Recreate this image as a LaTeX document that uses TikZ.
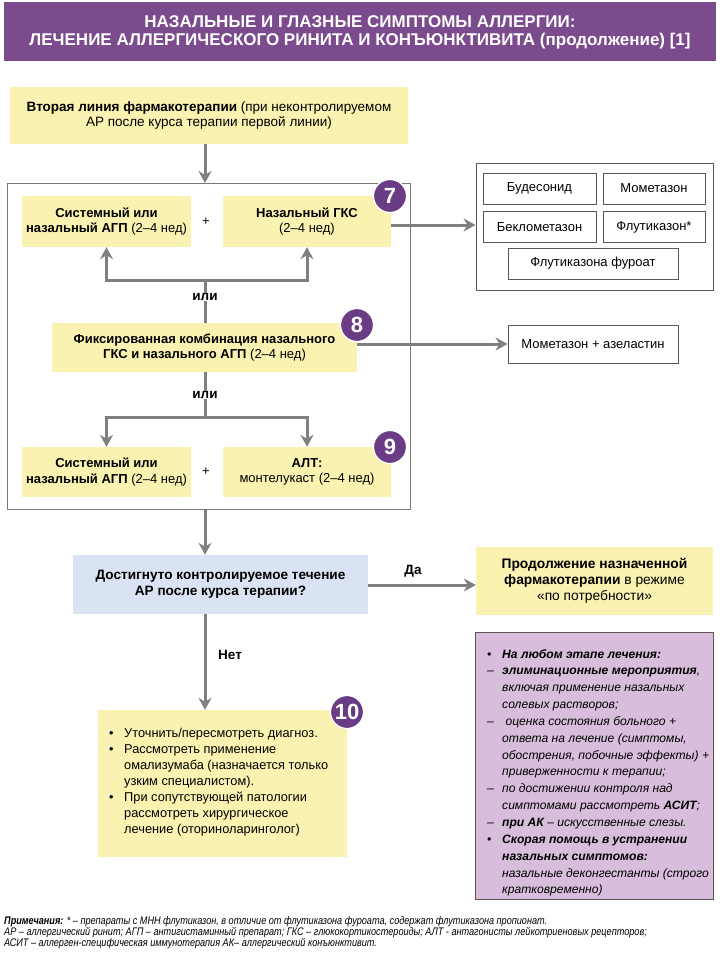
\documentclass[tikz,border=0pt]{standalone}
\usepackage{fontspec}
\setmainfont{Liberation Sans}
\newfontfamily\notefont[FakeStretch=0.83]{Liberation Sans}
\usetikzlibrary{arrows.meta,calc}
\definecolor{ttl}{HTML}{7B4B8E}
\definecolor{badge}{HTML}{6A3C86}
\definecolor{yel}{HTML}{F9F2B1}
\definecolor{blu}{HTML}{DAE3F3}
\definecolor{lil}{HTML}{D8BEDC}
\definecolor{arr}{HTML}{808080}
\definecolor{bord}{HTML}{5E5650}
\tikzset{
  every node/.style={font=\fontsize{13}{15.5}\selectfont, inner sep=0pt},
  ybox/.style={fill=yel, align=center},
  bbox/.style={fill=blu, align=center},
  wbox/.style={draw=bord, line width=0.9pt, fill=white, align=center},
  lbox/.style={draw=bord, line width=0.9pt, fill=lil},
  conn/.style={draw=arr, line width=3pt},
  arrow/.style={draw=arr, line width=3pt, -{Stealth[length=12pt,width=13pt,inset=4pt]}},
  badgec/.style={circle, fill=badge, draw=white, line width=1.2pt, minimum size=33pt,
     text=white, font=\fontsize{22}{22}\selectfont\bfseries},
  lbl/.style={font=\fontsize{13.5}{15.5}\selectfont\bfseries}
}
\begin{document}
\begin{tikzpicture}[x=1pt,y=-1pt]
\useasboundingbox (0,0) rectangle (720,964);
% title
\node[fill=ttl, minimum width=712, minimum height=59, anchor=north west] (title) at (4,2) {};
\node[text=white, align=center, font=\bfseries\fontsize{17}{18}\selectfont] (titletxt) at (360,32)
  {НАЗАЛЬНЫЕ И ГЛАЗНЫЕ СИМПТОМЫ АЛЛЕРГИИ:\\ЛЕЧЕНИЕ АЛЛЕРГИЧЕСКОГО РИНИТА И КОНЪЮНКТИВИТА (продолжение) [1]};
\coordinate (col) at (205,0);
% top box
\node[ybox, minimum width=398, minimum height=57, font=\fontsize{13.5}{15.5}\selectfont] (top) at (209,115.5)
  {\textbf{Вторая линия фармакотерапии} (при неконтролируемом\\АР после курса терапии первой линии)};
% container
\node[draw=bord!80, line width=1pt, minimum width=403, minimum height=326, anchor=north west] (cont) at (7,183) {};
\draw[arrow] (top.south -| col) -- (cont.north -| col);
% first pair
\node[ybox, minimum width=169, minimum height=51] (n1) at (106.5,221.5)
  {\textbf{Системный или}\\\textbf{назальный АГП} (2–4 нед)};
\node (plus1) at (206,222) {+};
\node[ybox, minimum width=168, minimum height=51] (n2) at (307,221.5)
  {\textbf{Назальный ГКС}\\(2–4 нед)};
\node[badgec] (b7) at (390,196) {7};
\node[lbl] (ili1) at (205,297) {или};
\coordinate (f1) at (205,280);
\draw[conn] (ili1.north) -- (f1);
\draw[arrow] (f1) -| (n1.south);
\draw[arrow] (f1) -| (n2.south);
% combo
\node[ybox, minimum width=305, minimum height=49] (combo) at (204.5,347.5)
  {\textbf{Фиксированная комбинация назального}\\\textbf{ГКС и назального АГП} (2–4 нед)};
\node[badgec] (b8) at (357,325) {8};
\draw[conn] (ili1.south) -- (combo.north -| ili1);
\node[lbl] (ili2) at (205,395) {или};
\draw[conn] (combo.south -| ili2) -- (ili2.north);
\coordinate (f2) at (205,417);
\draw[conn] (ili2.south) -- (f2);
% second pair
\node[ybox, minimum width=169, minimum height=50] (n3) at (106.5,472)
  {\textbf{Системный или}\\\textbf{назальный АГП} (2–4 нед)};
\node (plus2) at (206,472) {+};
\node[ybox, minimum width=168, minimum height=50] (n4) at (307,472)
  {\textbf{АЛТ:}\\монтелукаст (2–4 нед)};
\node[badgec] (b9) at (390,447) {9};
\draw[arrow] (f2) -| (n3.north);
\draw[arrow] (f2) -| (n4.north);
% drug group
\node[wbox, minimum width=237, minimum height=127] (drugs) at (594.5,226.5) {};
\node[wbox, minimum width=113, minimum height=31] (d1) at (539.5,188.5) {Будесонид};
\node[wbox, minimum width=102, minimum height=31] (d2) at (654,188.5) {Мометазон};
\node[wbox, minimum width=113, minimum height=31] (d3) at (539.5,227) {Беклометазон};
\node[wbox, minimum width=102, minimum height=31] (d4) at (654,227) {Флутиказон*};
\node[wbox, minimum width=170, minimum height=31] (d5) at (593,263.5) {Флутиказона фуроат};
\draw[arrow] (n2.east |- 0,225) -- (drugs.west |- 0,225);
% mometazon + azelastin
\node[wbox, minimum width=170, minimum height=38] (ma) at (593,344) {Мометазон + азеластин};
\draw[arrow] (combo.east |- ma) -- (ma.west);
% decision
\node[bbox, minimum width=295, minimum height=59, font=\fontsize{13.6}{16}\selectfont] (dec) at (220.5,584.5)
  {\textbf{Достигнуто контролируемое течение}\\\textbf{АР после курса терапии?}};
\draw[arrow] (cont.south -| col) -- (dec.north -| col);
\node[ybox, minimum width=237, minimum height=68, font=\fontsize{13.8}{15.8}\selectfont] (cont2) at (594.5,581)
  {\textbf{Продолжение назначенной}\\\textbf{фармакотерапии} в режиме\\«по потребности»};
\draw[arrow] (dec.east |- 0,585) -- (cont2.west |- 0,585);
\node[lbl] (yes) at (413,571) {Да};
% no branch
\node[ybox, minimum width=249, minimum height=147] (b10box) at (222.5,783.5) {};
\draw[arrow] (dec.south -| col) -- (b10box.north -| col);
\node[lbl, anchor=west] (no) at (218,655) {Нет};
\node[anchor=north west, font=\fontsize{12.8}{16}\selectfont] (b10txt) at (109,726)
 {\begin{tabular}{@{}p{15pt}@{}l@{}}
 • & Уточнить/пересмотреть диагноз.\\
 • & Рассмотреть применение\\
   & омализумаба (назначается только\\
   & узким специалистом).\\
 • & При сопутствующей патологии\\
   & рассмотреть хирургическое\\
   & лечение (оториноларинголог)
 \end{tabular}};
\node[badgec] (b10) at (347,712) {10};
% lilac box
\node[lbox, minimum width=238, minimum height=267] (adv) at (594,765.5) {};
\node[anchor=north west, font=\fontsize{12.1}{16.85}\selectfont\itshape] (advtxt) at (487,646)
 {\begin{tabular}{@{}p{15pt}@{}l@{}}
 • & \textbf{На любом этапе лечения:}\\
 – & \textbf{элиминационные мероприятия},\\
   & включая применение назальных\\
   & солевых растворов;\\
 – & \ оценка состояния больного +\\
   & ответа на лечение (симптомы,\\
   & обострения, побочные эффекты) +\\
   & приверженности к терапии;\\
 – & по достижении контроля над\\
   & симптомами рассмотреть \textbf{АСИТ};\\
 – & \textbf{при АК} – искусственные слезы.\\
 • & \textbf{Скорая помощь в устранении}\\
   & \textbf{назальных симптомов:}\\
   & назальные деконгестанты (строго\\
   & кратковременно)
 \end{tabular}};
% notes
\node[anchor=base west, align=left, font=\notefont\itshape\fontsize{11}{10.8}\selectfont] (notes) at (4,946)
 {\textbf{Примечания:} * – препараты с МНН флутиказон, в отличие от флутиказона фуроата, содержат флутиказона пропионат.\\
 АР – аллергический ринит; АГП – антигистаминный препарат; ГКС – глюкокортикостероиды; АЛТ - антагонисты лейкотриеновых рецепторов;\\
 АСИТ – аллерген-специфическая иммунотерапия АК– аллергический конъюнктивит.};
\end{tikzpicture}
\end{document}
